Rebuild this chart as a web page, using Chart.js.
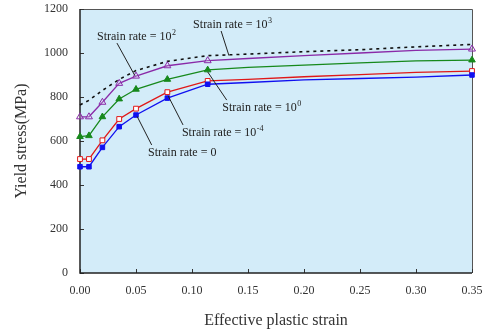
<!DOCTYPE html>
<html>
<head>
<meta charset="utf-8">
<script src="https://cdn.jsdelivr.net/npm/chart.js@4.4.1/dist/chart.umd.min.js"></script>
<style>
    html, body { margin: 0; padding: 0; background: #fff; }
    #wrap { width: 485px; height: 333px; }
</style>
</head>
<body>
<div id="wrap"><canvas id="yieldChart"></canvas></div>
<script>
// --- Data ---
const strain = [0, 0.008, 0.02, 0.035, 0.05, 0.078, 0.114, 0.15, 0.2, 0.25, 0.3, 0.35];
const rate0 = [483, 483, 571, 665, 718, 795, 858, 866, 878, 884, 890, 900];
const rateE4 = [518, 518, 603, 700, 747, 822, 873, 880, 892, 902, 912, 918];
const rate1 = [620, 624, 710, 791, 835, 880, 923, 935, 945, 955, 964, 968];
const rateE2 = [710, 710, 776, 862, 895, 942, 965, 975, 988, 1000, 1012, 1018];
const rateE3 = [764, 785, 830, 880, 920, 962, 988, 995, 1006, 1015, 1028, 1039];
const markerShown = [1, 1, 1, 1, 1, 1, 1, 0, 0, 0, 0, 1];
const yTicks = [0, 200, 400, 600, 800, 1000, 1200];
const xTicks = [0, 0.05, 0.1, 0.15, 0.2, 0.25, 0.3, 0.35];

const SERIF = '"Liberation Serif", "DejaVu Serif", serif';

// label text, superscript, text anchor (strain, MPa), leader line from -> to
const notes = [
    { text: 'Strain rate = 10', sup: '3', at: [0.101, 1127], from: [0.126, 1100], to: [0.133, 988] },
    { text: 'Strain rate = 10', sup: '2', at: [0.0152, 1074], from: [0.033, 1045], to: [0.049, 897] },
    { text: 'Strain rate = 10', sup: '0', at: [0.127, 750], from: [0.114, 914], to: [0.131, 786] },
    { text: 'Strain rate = 10', sup: '-4', at: [0.091, 636], from: [0.0786, 806], to: [0.092, 673] },
    { text: 'Strain rate = 0', sup: '', at: [0.0607, 545], from: [0.051, 712], to: [0.064, 582] }
];

const toPoints = (ys) => ys.map((y, i) => ({ x: strain[i], y: y }));
const radii = (r) => markerShown.map(m => m ? r : 0);

const makeSet = (label, ys, color, style, fill, r) => ({
    label: label,
    data: toPoints(ys),
    borderColor: color,
    backgroundColor: fill,
    pointBorderColor: color,
    pointBackgroundColor: fill,
    pointStyle: style,
    pointRadius: radii(r),
    pointBorderWidth: 1,
    borderWidth: 1.3,
    tension: 0,
    clip: false
});

const datasets = [
    makeSet('0', rate0, '#1010f0', 'rect', '#1010f0', 3.2),
    makeSet('1e-4', rateE4, '#e01818', 'rect', '#ffffff', 3.4),
    makeSet('1', rate1, '#17891c', 'triangle', '#17891c', 3.8),
    makeSet('1e2', rateE2, '#8a2aa8', 'triangle', 'rgba(255,255,255,0.2)', 4),
    {
        label: '1e3',
        data: toPoints(rateE3),
        borderColor: '#111',
        borderWidth: 1.6,
        borderDash: [3, 4],
        pointRadius: 0,
        tension: 0,
        clip: false
    }
];

// --- Plot background, frame, inside ticks and notes ---
const decor = {
    id: 'decor',
    beforeDatasetsDraw(chart) {
        const { ctx, chartArea: a, scales } = chart;
        ctx.save();
        ctx.fillStyle = '#d3ecf9';
        ctx.fillRect(a.left, a.top, a.right - a.left, a.bottom - a.top);

        ctx.strokeStyle = '#555';
        ctx.lineWidth = 1;
        ctx.beginPath();
        ctx.moveTo(a.left, a.top + 0.5);
        ctx.lineTo(a.right + 0.5, a.top + 0.5);
        ctx.lineTo(a.right + 0.5, a.bottom);
        ctx.stroke();

        ctx.strokeStyle = '#333';
        ctx.beginPath();
        yTicks.forEach(v => {
            const py = Math.round(scales.y.getPixelForValue(v)) + 0.5;
            ctx.moveTo(a.left, py);
            ctx.lineTo(a.left + 4, py);
        });
        xTicks.forEach(v => {
            const px = Math.round(scales.x.getPixelForValue(v)) + 0.5;
            ctx.moveTo(px, a.bottom);
            ctx.lineTo(px, a.bottom - 4);
        });
        ctx.stroke();

        ctx.strokeStyle = '#222';
        ctx.lineWidth = 1.5;
        ctx.beginPath();
        ctx.moveTo(a.left, a.top);
        ctx.lineTo(a.left, a.bottom);
        ctx.lineTo(a.right, a.bottom);
        ctx.stroke();
        ctx.restore();
    },
    afterDatasetsDraw(chart) {
        const { ctx, scales } = chart;
        const px = (p) => [scales.x.getPixelForValue(p[0]), scales.y.getPixelForValue(p[1])];
        ctx.save();
        ctx.strokeStyle = '#222';
        ctx.lineWidth = 1;
        ctx.fillStyle = '#222';
        ctx.textBaseline = 'middle';
        notes.forEach(n => {
            const f = px(n.from), t = px(n.to);
            ctx.beginPath();
            ctx.moveTo(f[0], f[1]);
            ctx.lineTo(t[0], t[1]);
            ctx.stroke();

            const p = px(n.at);
            ctx.font = '12px ' + SERIF;
            ctx.fillText(n.text, p[0], p[1]);
            if (n.sup) {
                const w = ctx.measureText(n.text).width;
                ctx.font = '8px ' + SERIF;
                ctx.fillText(n.sup, p[0] + w + 0.5, p[1] - 4);
            }
        });
        ctx.restore();
    }
};

new Chart(document.getElementById('yieldChart'), {
    type: 'line',
    data: { datasets: datasets },
    options: {
        responsive: true,
        maintainAspectRatio: false,
        animation: false,
        events: [],
        layout: { padding: { top: 9, right: 13, left: 0, bottom: 0 } },
        plugins: {
            legend: { display: false },
            tooltip: { enabled: false }
        },
        scales: {
            x: {
                type: 'linear',
                min: 0,
                max: 0.35,
                afterBuildTicks: (s) => { s.ticks = xTicks.map(v => ({ value: v })); },
                afterFit: (s) => {
                    s.height = 60;
                    s.paddingLeft = 0;
                    s.paddingRight = 0;
                },
                ticks: {
                    padding: 11,
                    color: '#333',
                    font: { family: SERIF, size: 12 },
                    maxRotation: 0,
                    callback: (v) => Number(v).toFixed(2)
                },
                grid: { drawOnChartArea: false, drawTicks: false },
                border: { display: false },
                title: {
                    display: true,
                    text: 'Effective plastic strain',
                    color: '#333',
                    font: { family: SERIF, size: 16 },
                    padding: { top: 0, bottom: 3 }
                }
            },
            y: {
                min: 0,
                max: 1200,
                afterBuildTicks: (s) => { s.ticks = yTicks.map(v => ({ value: v })); },
                afterFit: (s) => {
                    s.width = 80;
                    s.paddingTop = 0;
                    s.paddingBottom = 0;
                },
                ticks: {
                    padding: 12,
                    color: '#333',
                    font: { family: SERIF, size: 12 },
                    callback: (v) => String(v)
                },
                grid: { drawOnChartArea: false, drawTicks: false },
                border: { display: false },
                title: {
                    display: true,
                    text: 'Yield stress(MPa)',
                    color: '#333',
                    font: { family: SERIF, size: 16 },
                    padding: { top: 12, bottom: 0 }
                }
            }
        }
    },
    plugins: [decor]
});
</script>
</body>
</html>
